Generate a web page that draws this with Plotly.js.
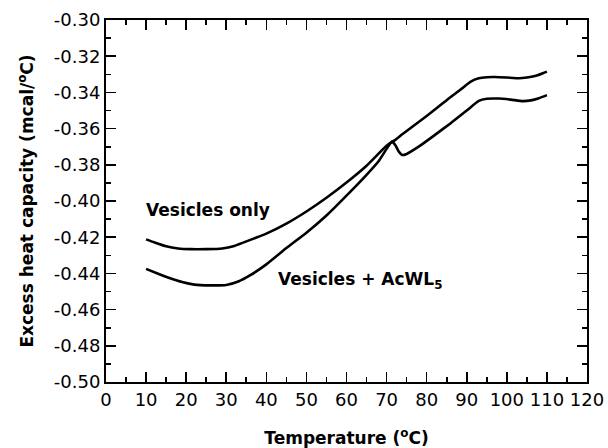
<!DOCTYPE html>
<html><head><meta charset="utf-8">
<script src="https://cdn.plot.ly/plotly-3.0.1.min.js"></script>
<style>html,body{margin:0;padding:0;background:#fff}#chart{width:608px;height:448px}</style>
</head><body><div id="chart"></div>
<script>
// Vesicles only
const tempOnly = [10,12,15,18,21,25,29,32,36,40,45,50,55,60,65,70,72,74,77,80,83,86,89,91,93,95,97,100,103,105,107,109,110];
const heatOnly = [-0.4212,-0.4228,-0.4250,-0.4262,-0.4266,-0.4266,-0.4262,-0.4248,-0.4215,-0.4180,-0.4125,-0.4058,-0.3982,-0.3898,-0.3805,-0.3695,-0.3665,-0.3630,-0.3580,-0.3530,-0.3478,-0.3425,-0.3375,-0.3340,-0.3322,-0.3316,-0.3315,-0.3318,-0.3322,-0.3318,-0.3310,-0.3294,-0.3285];
// Vesicles + AcWL5
const tempPep = [10,13,16,19,22,26,30,33,36,40,45,50,55,60,65,68,70,71.3,72.2,73,73.9,75,78,82,86,90,93,95,98,101,104,106,108,110];
const heatPep = [-0.4375,-0.4402,-0.4427,-0.4448,-0.4462,-0.4466,-0.4464,-0.4445,-0.4410,-0.4350,-0.4260,-0.4175,-0.4080,-0.3970,-0.3855,-0.3780,-0.3712,-0.3672,-0.3692,-0.3725,-0.3746,-0.3740,-0.3700,-0.3636,-0.3570,-0.3500,-0.3447,-0.3435,-0.3434,-0.3440,-0.3448,-0.3444,-0.3432,-0.3415];

const yTickVals = [-0.50,-0.48,-0.46,-0.44,-0.42,-0.40,-0.38,-0.36,-0.34,-0.32,-0.30];
const yTickText = ['-0.50','-0.48','-0.46','-0.44','-0.42','-0.40','-0.38','-0.36','-0.34','-0.32','-0.30'];
const xTickVals = [0,10,20,30,40,50,60,70,80,90,100,110,120];
const xTickText = ['0','10','20','30','40','50','60','70','80','90','100','110','120'];

const labelOnly = 'Vesicles only';
const labelPep = 'Vesicles + AcWL<sub>5</sub>';

const FONT = 'DejaVu Sans, sans-serif';
const lineStyle = {color:'#000', width:2.6, shape:'spline', smoothing:0.5};

const traces = [
  {x: tempOnly, y: heatOnly, mode:'lines', line: lineStyle, name: labelOnly, hoverinfo:'skip'},
  {x: tempPep, y: heatPep, mode:'lines', line: lineStyle, name: labelPep, hoverinfo:'skip'}
];

const axisCommon = {
  showline: true, linecolor:'#000', linewidth: 2, mirror: 'allticks',
  ticks: 'inside', ticklen: 10, tickwidth: 1.6, tickcolor:'#000',
  showgrid: false, zeroline: false,
  tickfont: {family: FONT, size: 18, color:'#000'},
  automargin: false
};

const layout = {
  width: 608, height: 448,
  margin: {l:106, r:21, t:20, b:66},
  paper_bgcolor:'#fff', plot_bgcolor:'#fff',
  showlegend: false,
  font: {family: FONT, color:'#000'},
  xaxis: Object.assign({}, axisCommon, {
    range: [0,120], tickmode:'array', tickvals: xTickVals, ticktext: xTickText,
    minor: {dtick: 5, tick0: 0, ticks:'inside', ticklen: 5, tickwidth: 1.6, tickcolor:'#000'},
    title: {text: '<b>Temperature (<sup>o</sup>C)</b>', font:{family: FONT, size:17, color:'#000'}, standoff: 28}
  }),
  yaxis: Object.assign({}, axisCommon, {
    range: [-0.50,-0.30], tickmode:'array', tickvals: yTickVals, ticktext: yTickText,
    minor: {dtick: 0.01, tick0: 0, ticks:'inside', ticklen: 5, tickwidth: 1.6, tickcolor:'#000'},
    title: {text: '<b>Excess heat capacity (mcal/<sup>o</sup>C)</b>', font:{family: FONT, size:17, color:'#000'}, standoff: 16}
  }),
  annotations: [
    {x: 25.4, y: -0.405, xref:'x', yref:'y', text: '<b>'+labelOnly+'</b>', showarrow:false,
     xanchor:'center', yanchor:'middle', font:{family: FONT, size:17, color:'#000'}},
    {x: 42.4, y: -0.4437, xref:'x', yref:'y', text: '<b>'+labelPep+'</b>', showarrow:false,
     xanchor:'left', yanchor:'middle', font:{family: FONT, size:17, color:'#000'}}
  ]
};

Plotly.newPlot('chart', traces, layout, {staticPlot:true, displayModeBar:false});
</script>
</body></html>
